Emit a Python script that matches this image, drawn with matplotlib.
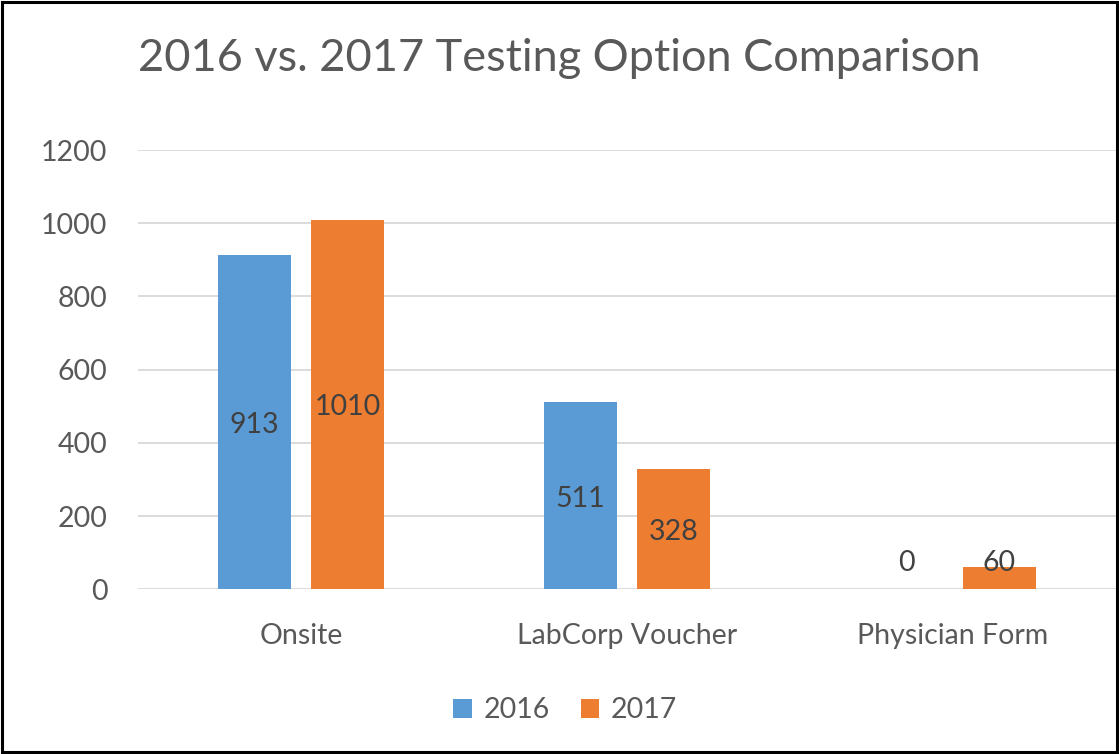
import matplotlib
matplotlib.use('Agg')
import matplotlib.pyplot as plt
import numpy as np
from matplotlib.patches import Rectangle

categories = ['Onsite', 'LabCorp Voucher', 'Physician Form']
series_names = ['2016', '2017']
values_2016 = [913, 511, 0]
values_2017 = [1010, 328, 60]
yticks = [0, 200, 400, 600, 800, 1000, 1200]

plt.rcParams['font.family'] = ['Lato', 'DejaVu Sans']
text_color = '#595959'
colors = ['#5B9BD5', '#ED7D31']

fig = plt.figure(figsize=(11.19, 7.54), dpi=100)
ax = fig.add_axes([0.1233, 0.2185, 0.8737, 0.5825])

x = np.arange(len(categories))
width = 0.224
offset = 0.1426
for vals, off, col, name in [(values_2016, -offset, colors[0], series_names[0]),
                             (values_2017, offset, colors[1], series_names[1])]:
    ax.bar(x + off, vals, width, color=col, label=name, zorder=2)
    for xi, v in zip(x + off, vals):
        # small bars get their label lifted above the axis, as in the original
        ax.text(xi, max(v / 2, 80) - 8, str(v), ha='center', va='center',
                fontsize=20.5, color='#404040', zorder=3)

ax.set_xlim(-0.5, 2.5)
ax.set_ylim(0, 1200)
ax.set_yticks(yticks)
ax.set_yticklabels([str(t) for t in yticks])
ax.set_xticks(x)
ax.set_xticklabels(categories)
ax.tick_params(axis='both', length=0, labelsize=20.5, colors=text_color)
ax.tick_params(axis='x', pad=24)
ax.tick_params(axis='y', pad=22)
ax.grid(axis='y', color='#D9D9D9', lw=1.3, zorder=0)
for s in ax.spines.values():
    s.set_visible(False)

fig.text(0.5, 0.923, '2016 vs. 2017 Testing Option Comparison', ha='center', va='center',
         fontsize=32.5, color=text_color)

ax.legend(loc='center', bbox_to_anchor=(0.505, 0.058), bbox_transform=fig.transFigure,
          ncol=2, frameon=False, fontsize=20.5, labelcolor=text_color,
          handlelength=0.65, handleheight=0.65, handletextpad=0.4, columnspacing=1.1)

fig.patches.append(Rectangle((0.002, 0.002), 0.996, 0.995, transform=fig.transFigure,
                             fill=False, edgecolor='black', lw=2.2))

fig.savefig('out.png', dpi=100)
